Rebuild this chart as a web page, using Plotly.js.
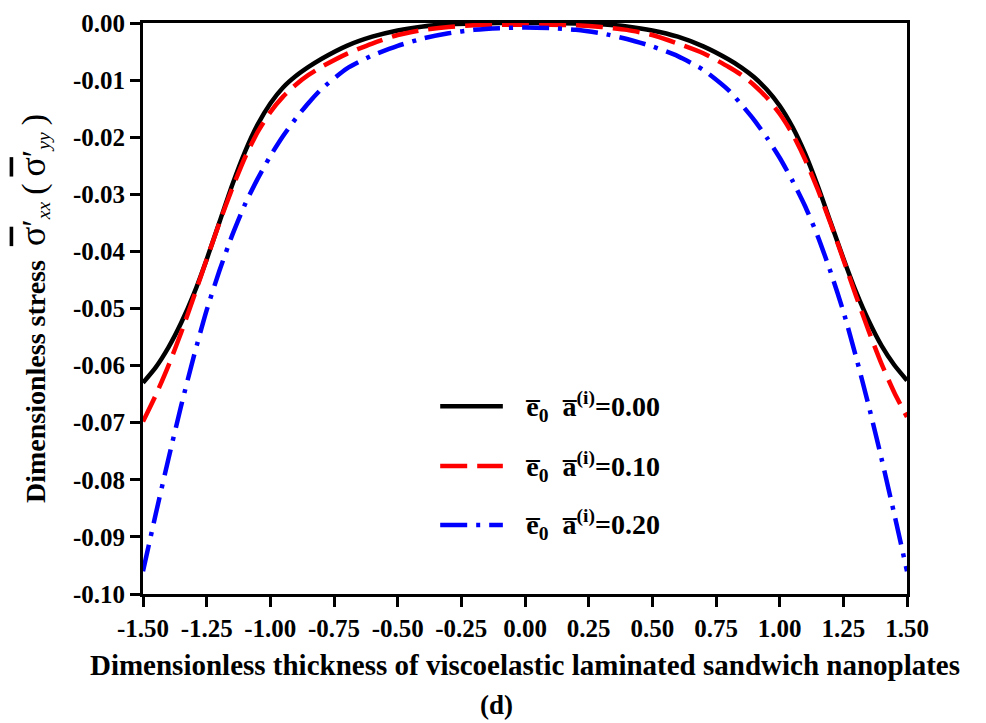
<!DOCTYPE html>
<html>
<head>
<meta charset="utf-8">
<script src="https://cdn.plot.ly/plotly-3.0.1.min.js"></script>
<style>html,body{margin:0;padding:0;background:#fff;}#chart{width:986px;height:723px;}</style>
</head>
<body>
<div id="chart"></div>
<script>
// Dimensionless thickness (x)
const thickness = [-1.5,-1.45,-1.4,-1.35,-1.3,-1.25,-1.2,-1.15,-1.1,-1.05,-1.0,-0.95,-0.9,-0.85,-0.8,-0.7,-0.6,-0.5,-0.4,-0.3,-0.2,-0.1,0,
                   0.1,0.2,0.3,0.4,0.5,0.6,0.7,0.8,0.85,0.9,0.95,1.0,1.05,1.1,1.15,1.2,1.25,1.3,1.35,1.4,1.45,1.5];
// e0 a(i) = 0.00
const stress000 = [-0.0630,-0.0603,-0.0568,-0.0525,-0.0474,-0.0414,-0.0349,-0.0284,-0.0226,-0.0178,-0.0141,-0.0113,-0.0093,-0.0077,-0.0063,-0.0040,-0.0024,-0.0013,-0.0006,-0.0002,-0.0001,0,0,
                   0,-0.0001,-0.0002,-0.0006,-0.0013,-0.0024,-0.0041,-0.0064,-0.0078,-0.0095,-0.0117,-0.0145,-0.0182,-0.0229,-0.0286,-0.0349,-0.0412,-0.0471,-0.0522,-0.0565,-0.0599,-0.0626];
// e0 a(i) = 0.10
const stress010 = [-0.0698,-0.0652,-0.0600,-0.0542,-0.0479,-0.0414,-0.0350,-0.0290,-0.0236,-0.0191,-0.0156,-0.0129,-0.0108,-0.0091,-0.0077,-0.0054,-0.0036,-0.0021,-0.0012,-0.0007,-0.0004,-0.0003,-0.0003,
                   -0.0003,-0.0004,-0.0007,-0.0012,-0.0021,-0.0036,-0.0053,-0.0077,-0.0091,-0.0109,-0.0131,-0.0159,-0.0194,-0.0239,-0.0292,-0.0351,-0.0414,-0.0478,-0.0540,-0.0597,-0.0647,-0.0690];
// e0 a(i) = 0.20
const stress020 = [-0.0960,-0.0860,-0.0763,-0.0670,-0.0583,-0.0503,-0.0434,-0.0372,-0.0318,-0.0273,-0.0233,-0.0198,-0.0167,-0.0140,-0.0116,-0.0080,-0.0057,-0.0040,-0.0027,-0.0018,-0.0012,-0.0009,-0.0008,
                   -0.0009,-0.0012,-0.0018,-0.0028,-0.0041,-0.0058,-0.0082,-0.0118,-0.0143,-0.0170,-0.0201,-0.0236,-0.0276,-0.0321,-0.0374,-0.0436,-0.0505,-0.0585,-0.0671,-0.0763,-0.0860,-0.0960];

const seriesNames = ['e\u0305<sub>0</sub>  a\u0305<sup>(i)</sup>=0.00',
                     'e\u0305<sub>0</sub>  a\u0305<sup>(i)</sup>=0.10',
                     'e\u0305<sub>0</sub>  a\u0305<sup>(i)</sup>=0.20'];
const xTickVals = [-1.5,-1.25,-1.0,-0.75,-0.5,-0.25,0,0.25,0.5,0.75,1.0,1.25,1.5];
const xTickText = ['-1.50','-1.25','-1.00','-0.75','-0.50','-0.25','0.00','0.25','0.50','0.75','1.00','1.25','1.50'];
const yTickVals = [0,-0.01,-0.02,-0.03,-0.04,-0.05,-0.06,-0.07,-0.08,-0.09,-0.10];
const yTickText = ['0.00','-0.01','-0.02','-0.03','-0.04','-0.05','-0.06','-0.07','-0.08','-0.09','-0.10'];

const FONT = 'Liberation Serif, Times New Roman, serif';
const colors = ['#000000','#ff0000','#0000ff'];
const dashes = ['solid','27px,10px','27px,9px,4px,9px'];
const ys = [stress000, stress010, stress020];

const traces = ys.map((y,i)=>({
  x: thickness, y: y, type:'scatter', mode:'lines', name: seriesNames[i],
  line:{color:colors[i], width:4.5, dash:dashes[i], shape:'spline', smoothing:0.6},
  showlegend:false, cliponaxis:true
}));

// custom legend (long line samples like the original)
const legY = [0.329, 0.224, 0.121];
const shapes = legY.map((yy,i)=>({
  type:'line', xref:'paper', yref:'paper', x0:0.389, x1:0.471, y0:yy, y1:yy,
  line:{color:colors[i], width:4.5, dash:dashes[i]}
}));
const annotations = legY.map((yy,i)=>({
  xref:'paper', yref:'paper', x:0.497, y:yy, xanchor:'left', yanchor:'middle',
  text:'<b>'+seriesNames[i]+'</b>', showarrow:false,
  font:{family:FONT, size:28, color:'#000'}
}));
annotations.push({
  xref:'paper', yref:'paper', x:0.463, y:-0.195, xanchor:'center', yanchor:'middle',
  text:'<b>(d)</b>', showarrow:false, font:{family:FONT, size:27, color:'#000'}
});

const sig = '<span style="font-size:36px;text-decoration:overline">σ</span><span style="font-size:34px">\u2032</span>';
const layout = {
  width:986, height:723,
  margin:{l:143, r:79, t:23, b:129},
  paper_bgcolor:'#fff', plot_bgcolor:'#fff',
  font:{family:FONT, size:25, color:'#000', weight:'bold'},
  showlegend:false,
  xaxis:{
    range:[-1.5,1.5], tickvals:xTickVals, ticktext:xTickText,
    ticks:'outside', ticklen:10, tickwidth:3, tickcolor:'#000',
    showline:true, linewidth:3, linecolor:'#000', mirror:true,
    showgrid:false, zeroline:false,
    tickfont:{family:FONT, size:25, color:'#000', weight:'bold'},
    title:{text:'Dimensionless thickness of viscoelastic laminated sandwich nanoplates',
           font:{family:FONT, size:29, color:'#000', weight:'bold'}, standoff:14}
  },
  yaxis:{
    range:[-0.1,0], tickvals:yTickVals, ticktext:yTickText,
    ticks:'outside', ticklen:10, tickwidth:3, tickcolor:'#000',
    showline:true, linewidth:3, linecolor:'#000', mirror:true,
    showgrid:false, zeroline:false,
    tickfont:{family:FONT, size:25, color:'#000', weight:'bold'},
    title:{text:'Dimensionless stress  <span style="font-weight:normal">'+sig+'<sub><i>xx</i></sub> <span style="font-size:34px">(</span> '+sig+'<sub><i>yy</i></sub> <span style="font-size:34px">)</span></span>',
           font:{family:FONT, size:28, color:'#000', weight:'bold'}, standoff:20}
  },
  shapes: shapes,
  annotations: annotations
};
Plotly.newPlot('chart', traces, layout, {staticPlot:true, displayModeBar:false});
</script>
</body>
</html>
